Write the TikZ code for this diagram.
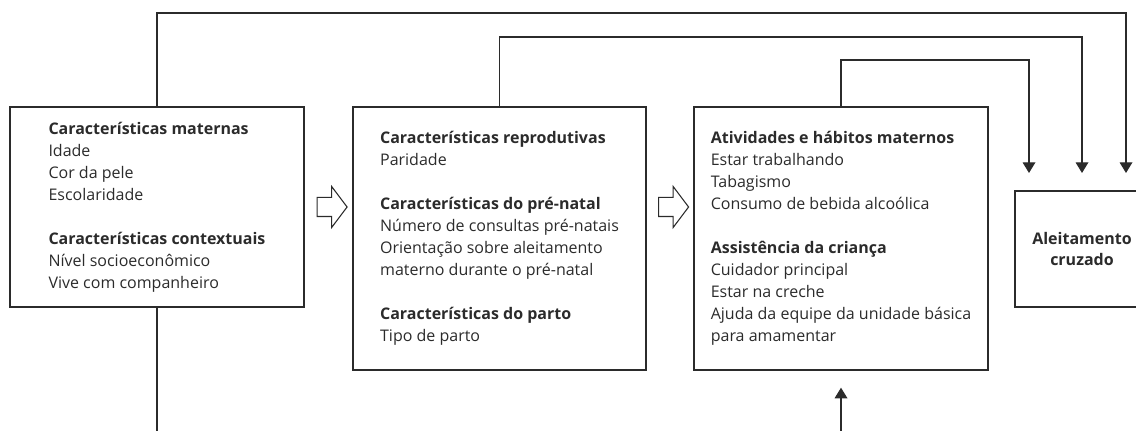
\documentclass[tikz,border=0pt]{standalone}
\usepackage{fontspec}
\setmainfont{Open Sans}
\usetikzlibrary{arrows.meta,calc,shapes.arrows}
\definecolor{ink}{HTML}{2B2B2B}
\tikzset{
	blockbox/.style={draw=ink, line width=1pt, align=left, inner sep=0pt,
		font=\fontsize{12}{16.5}\selectfont, text=ink},
	outbox/.style={draw=ink, line width=2.2pt, align=center, inner sep=0pt,
		font=\fontsize{12}{16.5}\selectfont\bfseries, text=ink},
	link/.style={draw=ink, line width=1pt},
	linkarrow/.style={link, -{Triangle[width=9.5pt,length=8pt]}},
	stagearrow/.style={single arrow, draw=ink, line width=0.8pt, fill=white,
		inner xsep=0pt, inner ysep=6.75pt, minimum height=22.5pt,
		single arrow head extend=8.25pt, single arrow tip angle=106}
}
\begin{document}
\begin{tikzpicture}[x=0.75pt, y=-0.75pt]
		\useasboundingbox (0, 0) rectangle (1136, 431);
		% blocos
		\node[blockbox, minimum width=220.5pt, minimum height=150pt] (m1) at (157, 207)
			{\textbf{Características maternas}\\Idade\\Cor da pele\\Escolaridade\\[16.5pt]
			 \textbf{Características contextuais}\\Nível socioeconômico\\Vive com companheiro};
		\node[blockbox, minimum width=219.75pt, minimum height=197.25pt] (m2) at (499.5, 238.5)
			{\textbf{Características reprodutivas}\\Paridade\\[16.5pt]
			 \textbf{Características do pré-natal}\\Número de consultas pré-natais\\Orientação sobre aleitamento\\materno durante o pré-natal\\[16.5pt]
			 \textbf{Características do parto}\\Tipo de parto};
		\node[blockbox, minimum width=220.5pt, minimum height=197.25pt] (m3) at (841, 238.5)
			{\textbf{Atividades e hábitos maternos}\\Estar trabalhando\\Tabagismo\\Consumo de bebida alcoólica\\[16.5pt]
			 \textbf{Assistência da criança}\\Cuidador principal\\Estar na creche\\Ajuda da equipe da unidade básica\\para amamentar};
		\node[outbox, minimum width=100.5pt, minimum height=87pt] (out) at (1082, 249)
			{Aleitamento\\cruzado};
		% setas entre blocos
		\node[stagearrow] (s1) at ($(m1.east)!0.5!(m2.west |- m1.east)$) {};
		\node[stagearrow] (s2) at ($(m2.east |- m1.east)!0.5!(m3.west |- m1.east)$) {};
		% ligacoes com o desfecho
		\coordinate (in1) at (1029, 173);
		\coordinate (in2) at (1082, 173);
		\coordinate (in3) at (1126, 173);
		\draw[linkarrow] (m1.north) -- (m1.north |- 0, 13) -| (in3);
		\draw[linkarrow] (m2.north) -- (m2.north |- 0, 37) -| (in2);
		\draw[linkarrow] (m3.north) -- (m3.north |- 0, 60) -| (in1);
		\coordinate (foot1) at (157, 436);
		\coordinate (foot3) at (841, 436);
		\draw[link] (m1.south) -- (foot1);
		\draw[linkarrow] (foot3) -- ($(m3.south)+(0, 17)$);
	\end{tikzpicture}
\end{document}
